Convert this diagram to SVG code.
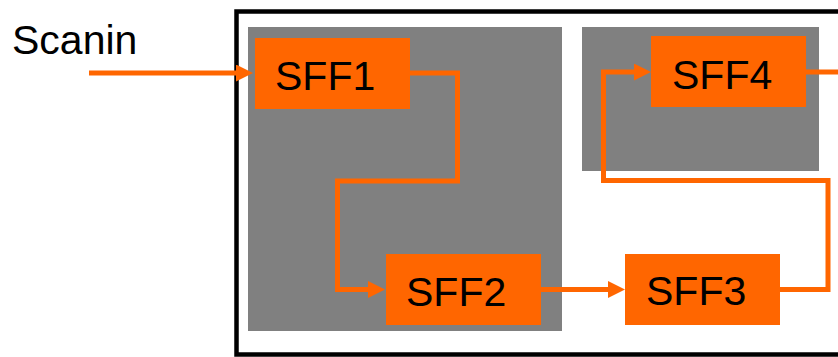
<svg xmlns="http://www.w3.org/2000/svg" width="838" height="357" viewBox="0 0 838 357">
  <style>
    .ff { fill: #FF6600; }
    .lbl { font-family: "Liberation Sans", Arial, sans-serif; font-size: 41px; fill: #000; }
    .wire { fill: none; stroke: #FF6600; stroke-width: 5; stroke-linejoin: miter; }
    .region { fill: #808080; }
  </style>
  <defs>
    <marker id="arrow" markerUnits="userSpaceOnUse" markerWidth="17" markerHeight="17" refX="0" refY="8.5" orient="auto">
      <path d="M0,0 L17,8.5 L0,17 Z" fill="#FF6600"/>
    </marker>
  </defs>

  <rect width="838" height="357" fill="#fff"/>

  <!-- chip outline -->
  <rect x="236.5" y="11.5" width="700" height="343" fill="none" stroke="#000" stroke-width="4.5"/>

  <!-- shaded regions -->
  <rect class="region" x="248" y="27" width="314" height="304"/>
  <rect class="region" x="582" y="27" width="237" height="144"/>

  <text class="lbl" x="12" y="54">Scanin</text>

  <g id="connectors">
    <path class="wire" d="M89,73 H236" marker-end="url(#arrow)"/>
    <path class="wire" d="M410,73 H457.5 V181 H337.5 V289.5 H368" marker-end="url(#arrow)"/>
    <path class="wire" d="M541,289.5 H608" marker-end="url(#arrow)"/>
    <path class="wire" d="M780,289.5 H828 V180.5 H603.5 V72 H634" marker-end="url(#arrow)"/>
    <path class="wire" d="M806,72 H840"/>
  </g>

  <g id="sff1">
    <rect class="ff" x="255" y="38" width="155" height="71"/>
    <text class="lbl" x="275" y="90">SFF1</text>
  </g>
  <g id="sff2">
    <rect class="ff" x="386" y="254" width="155" height="71"/>
    <text class="lbl" x="406" y="306">SFF2</text>
  </g>
  <g id="sff3">
    <rect class="ff" x="625" y="254" width="155" height="71"/>
    <text class="lbl" x="646" y="305">SFF3</text>
  </g>
  <g id="sff4">
    <rect class="ff" x="651" y="36" width="155" height="71"/>
    <text class="lbl" x="672" y="89">SFF4</text>
  </g>
</svg>
